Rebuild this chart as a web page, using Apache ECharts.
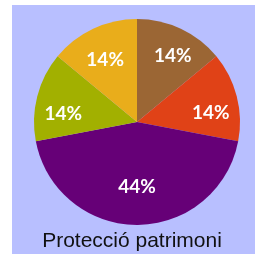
<!DOCTYPE html>
<html><head><meta charset="utf-8">
<script src="https://cdn.jsdelivr.net/npm/echarts@6/dist/echarts.min.js"></script>
<style>html,body{margin:0;padding:0;background:#fff}#c{width:255px;height:254px}</style>
</head><body><div id="c"></div>
<script>
const categories = ['A', 'B', 'C', 'D', 'E'];
const values = [14, 14, 44, 14, 14];
const labels = ['14%', '14%', '44%', '14%', '14%'];
const colors = ['#9b6634', '#e04217', '#660077', '#a2b000', '#e9ad1b'];
const titleText = 'Protecció patrimoni';

const chart = echarts.init(document.getElementById('c'), null, {renderer: 'canvas'});
const center = [137, 122];
const R = 103;
// small nudges of the label text: [down, right] in px
const labelNudge = [[4, 3], [10, -1], [0, 0], [11, 1], [8, 1]];
const baseData = categories.map((c, i) => ({name: c, value: values[i], itemStyle: {color: colors[i]}}));
function labelSeries(r0, pick) {
  return {
    type: 'pie', center: center, radius: [r0, R], startAngle: 90, clockwise: true,
    silent: true, animation: false,
    itemStyle: {color: 'rgba(0,0,0,0)', borderWidth: 0},
    labelLine: {show: false},
    data: categories.map((c, i) => {
      const dn = labelNudge[i][0], rt = labelNudge[i][1];
      return {
        name: c, value: values[i],
        label: {show: pick(i), position: 'inside',
          formatter: dn > 0 ? '{s| }\n{t|' + labels[i] + '}' : '{t|' + labels[i] + '}',
          padding: rt >= 0 ? [0, 0, 0, rt * 2] : [0, -rt * 2, 0, 0],
          rich: {
            s: {fontSize: 1, lineHeight: dn * 2},
            t: {color: '#fff', fontFamily: 'Lato', fontWeight: 'bold', fontSize: 19, lineHeight: 22}
          }}
      };
    })
  };
}
chart.setOption({
  backgroundColor: '#ffffff',
  animation: false,
  graphic: [{type: 'rect', z: -10, shape: {x: 12, y: 5, width: 243, height: 249}, style: {fill: '#b8bfff'}}],
  title: {text: titleText, left: 132, textAlign: 'center', top: 231, padding: 0,
    textStyle: {fontFamily: 'Liberation Sans', fontWeight: 'normal', fontSize: 21, color: '#111'}},
  series: [
    {type: 'pie', center: center, radius: [0, R], startAngle: 90, clockwise: true,
     label: {show: false}, labelLine: {show: false}, silent: true,
     itemStyle: {borderWidth: 0}, data: baseData},
    labelSeries(R * 0.44, i => values[i] !== 44),
    labelSeries(R * 0.2, i => values[i] === 44)
  ]
});
</script></body></html>
